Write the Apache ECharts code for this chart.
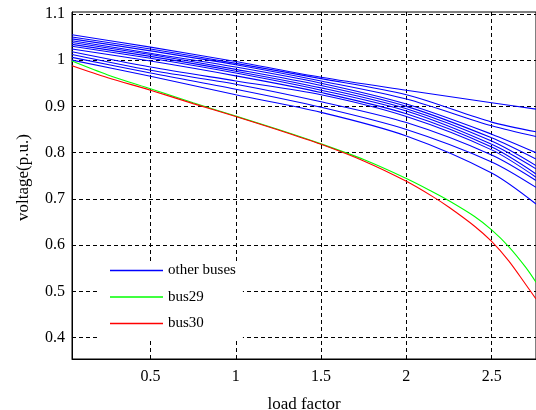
<!DOCTYPE html>
<html>
<head>
<meta charset="utf-8">
<script src="https://cdn.jsdelivr.net/npm/echarts@6/dist/echarts.min.js"></script>
<style>
html,body{margin:0;padding:0;background:#fff;}
#c{width:536px;height:410px;}
</style>
</head>
<body>
<div id="c"></div>
<script>
// ---- data ----
const xTicks = [0.5, 1, 1.5, 2, 2.5];
const yTicks = [0.4, 0.5, 0.6, 0.7, 0.8, 0.9, 1.0, 1.1];

const blueX = [0.04, 0.5, 1.0, 1.5, 2.0, 2.5, 2.76];
const b1  = [1.055, 1.028, 0.997, 0.963, 0.935, 0.908, 0.894];
const b2  = [1.050, 1.024, 0.993, 0.960, 0.925, 0.866, 0.845];
const b3  = [1.046, 1.020, 0.990, 0.955, 0.916, 0.858, 0.835];
const b4  = [1.042, 1.015, 0.985, 0.950, 0.905, 0.840, 0.800];
const b5  = [1.038, 1.012, 0.980, 0.945, 0.900, 0.832, 0.786];
const b6  = [1.034, 1.008, 0.976, 0.940, 0.895, 0.825, 0.772];
const b7  = [1.030, 1.004, 0.972, 0.935, 0.890, 0.818, 0.765];
const b8  = [1.024, 0.998, 0.966, 0.930, 0.884, 0.812, 0.754];
const b9  = [1.018, 0.985, 0.955, 0.925, 0.878, 0.806, 0.747];
const b10 = [1.012, 0.978, 0.948, 0.910, 0.865, 0.795, 0.740];
const b11 = [1.006, 0.972, 0.937, 0.898, 0.850, 0.780, 0.725];
const b12 = [1.000, 0.965, 0.925, 0.887, 0.836, 0.756, 0.689];
const blueSeries = [b1, b2, b3, b4, b5, b6, b7, b8, b9, b10, b11, b12];

const busX  = [0.04, 0.25, 0.5, 0.75, 1.0, 1.25, 1.5, 1.75, 2.0, 2.15, 2.25, 2.4, 2.5, 2.6, 2.7, 2.76];
const bus29 = [0.998, 0.968, 0.938, 0.908, 0.879, 0.850, 0.819, 0.785, 0.744, 0.716, 0.696, 0.662, 0.633, 0.597, 0.552, 0.520];
const bus30 = [0.988, 0.962, 0.935, 0.906, 0.878, 0.849, 0.818, 0.782, 0.738, 0.706, 0.682, 0.641, 0.608, 0.566, 0.515, 0.484];

const font = 'Liberation Serif';
const BLUE = '#0000ff', GREEN = '#00ff00', RED = '#ff0000';
const zip = (xs, ys) => xs.map((x, i) => [x, ys[i]]);

const series = [];
blueSeries.forEach(ys => {
  series.push({
    name: 'other buses', type: 'line', data: zip(blueX, ys), smooth: 0.3,
    symbol: 'none', lineStyle: {color: BLUE, width: 1.1}, itemStyle: {color: BLUE},
    silent: true, z: 2
  });
});
series.push({
  name: 'bus29', type: 'line', data: zip(busX, bus29), smooth: 0.3,
  symbol: 'none', lineStyle: {color: GREEN, width: 1.1}, itemStyle: {color: GREEN}, z: 3
});
series.push({
  name: 'bus30', type: 'line', data: zip(busX, bus30), smooth: 0.3,
  symbol: 'none', lineStyle: {color: RED, width: 1.1}, itemStyle: {color: RED}, z: 4
});

const chart = echarts.init(document.getElementById('c'), null, {renderer: 'canvas'});
chart.setOption({
  animation: false,
  backgroundColor: '#ffffff',
  grid: {left: 72, top: 12, width: 464, height: 347, containLabel: false, outerBoundsMode: 'none',
         show: true, borderColor: '#000', borderWidth: 1, backgroundColor: '#fff'},
  xAxis: {
    type: 'value', min: 0.04, max: 2.76,
    name: 'load factor', nameLocation: 'middle', nameGap: 37,
    nameTextStyle: {fontFamily: font, fontSize: 17, color: '#000'},
    axisLine: {show: true, lineStyle: {color: '#000', width: 1}},
    axisTick: {show: true, inside: true, length: 4, lineStyle: {color: '#000'}, customValues: xTicks},
    axisLabel: {fontFamily: font, fontSize: 16, color: '#000', margin: 10, customValues: xTicks},
    splitLine: {show: true, lineStyle: {color: '#000', type: [4, 3], width: 1}}
  },
  yAxis: {
    type: 'value', min: 0.354, max: 1.104,
    name: 'voltage(p.u.)', nameLocation: 'middle', nameGap: 40,
    nameTextStyle: {fontFamily: font, fontSize: 17, color: '#000', padding: [0, 0, 0, 16]},
    axisLine: {show: true, lineStyle: {color: '#000', width: 1}},
    axisTick: {show: true, inside: true, length: 4, lineStyle: {color: '#000'}, customValues: yTicks},
    axisLabel: {fontFamily: font, fontSize: 16, color: '#000', margin: 7, customValues: yTicks},
    splitLine: {show: true, lineStyle: {color: '#000', type: [4, 3], width: 1}}
  },
  legend: {
    orient: 'vertical', left: 100, top: 263,
    icon: 'rect',
    data: [
      {name: 'other buses', itemStyle: {color: BLUE}},
      {name: 'bus29', itemStyle: {color: GREEN}},
      {name: 'bus30', itemStyle: {color: RED}}
    ],
    itemWidth: 53, itemHeight: 1.6, itemGap: 11.5,
    padding: [0, 7, 8, 10],
    backgroundColor: '#fff',
    textStyle: {fontFamily: font, fontSize: 15, lineHeight: 15, color: '#000'},
    selectedMode: false
  },
  series: series
});
</script>
</body>
</html>
